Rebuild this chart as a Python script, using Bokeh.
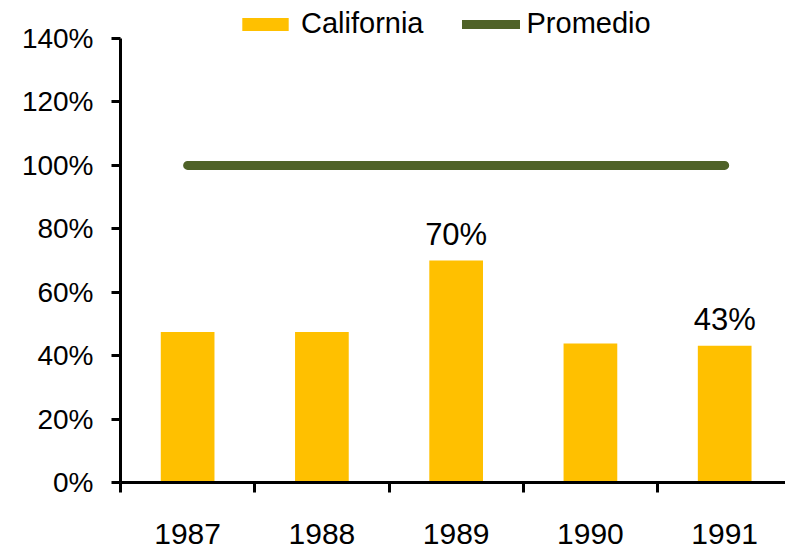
from bokeh.plotting import figure
from bokeh.models import Range1d, FixedTicker, Legend, LegendItem, ColumnDataSource
from bokeh.core.properties import value
from bokeh.embed import file_html
from bokeh.resources import INLINE

years = ["1987", "1988", "1989", "1990", "1991"]
california = [47.5, 47.5, 70, 43.8, 43.1]
promedio = [100, 100, 100, 100, 100]
bar_labels = ["", "", "70%", "", "43%"]
y_ticks = [0, 20, 40, 60, 80, 100, 120, 140]
y_tick_labels = ["0%", "20%", "40%", "60%", "80%", "100%", "120%", "140%"]

FONT = "Liberation Sans"
xpos = [i + 0.5 for i in range(len(years))]

src = ColumnDataSource(dict(x=xpos, cal=california, prom=promedio, lab=bar_labels))

p = figure(width=785, height=548, output_backend="svg", toolbar_location=None,
           x_range=Range1d(0, 4.953), y_range=Range1d(0, 152),
           min_border_left=120, min_border_right=0, min_border_top=0, min_border_bottom=66)
p.outline_line_color = None
p.grid.grid_line_color = None

bars = p.vbar(x="x", top="cal", width=0.4, source=src, fill_color="#FFC000", line_color=None)
line = p.line(x="x", y="prom", source=src, line_color="#4F6228", line_width=9, line_cap="round")
p.text(x="x", y="cal", text="lab", source=src, text_align="center", text_baseline="alphabetic",
       y_offset=-26, text_font=value(FONT), text_font_size="31px", text_color="black")

# y axis
ya = p.yaxis[0]
ya.ticker = FixedTicker(ticks=y_ticks, minor_ticks=[])
ya.bounds = (y_ticks[0], y_ticks[-1])
ya.major_label_overrides = {t: l for t, l in zip(y_ticks, y_tick_labels)}
ya.axis_line_width = 3
ya.major_tick_line_width = 3
ya.major_tick_in = 0
ya.major_tick_out = 9
ya.minor_tick_line_color = None
ya.major_label_text_font = FONT
ya.major_label_text_font_size = "28px"
ya.major_label_text_color = "black"
ya.major_label_standoff = 18

# x axis: labels at category centres, ticks at boundaries
xa = p.xaxis[0]
xa.ticker = FixedTicker(ticks=xpos, minor_ticks=list(range(len(years) + 1)))
xa.major_label_overrides = {x: y for x, y in zip(xpos, years)}
xa.axis_line_width = 3
xa.major_tick_line_color = None
xa.major_tick_in = 0
xa.major_tick_out = 0
xa.minor_tick_line_width = 3
xa.minor_tick_in = 0
xa.minor_tick_out = 10
xa.major_label_text_font = FONT
xa.major_label_text_font_size = "30px"
xa.major_label_text_color = "black"
xa.major_label_standoff = 31

legend = Legend(items=[LegendItem(label="California", renderers=[bars]),
                       LegendItem(label="Promedio", renderers=[line])],
                orientation="horizontal", location=(116, 442),
                glyph_width=58, glyph_height=16, label_standoff=7, spacing=38,
                label_text_font=FONT, label_text_font_size="29px", label_text_color="black",
                border_line_color=None, background_fill_alpha=0, padding=0, margin=0)
p.add_layout(legend)

open("out.html", "w").write(file_html(p, INLINE))
